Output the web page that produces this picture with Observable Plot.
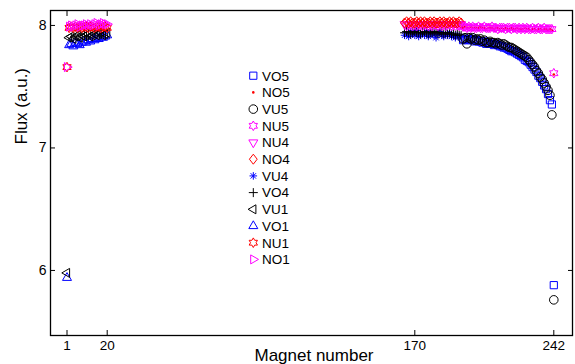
<!DOCTYPE html>
<html><head><meta charset="utf-8">
<script src="https://cdn.jsdelivr.net/npm/d3@7"></script>
<script src="https://cdn.jsdelivr.net/npm/@observablehq/plot@0.6"></script>
<style>
html,body{margin:0;padding:0;background:#fff;}
#wrap{position:relative;width:575px;height:364px;overflow:hidden;font-family:"Liberation Sans",Arial,sans-serif;}
#legend{position:absolute;left:0;top:0;pointer-events:none;}
</style></head><body><div id="wrap"></div>
<script>
// ---- data ----
const xTicks = [1, 20, 170, 242];
const yTicks = [6, 7, 8];
const xLabel = "Magnet number";
const yLabel = "Flux (a.u.)";

const mag1 = [1,2,3,4,5,6,7,8,9,10,11,12,13,14,15,16,17,18,19,20];
const mag4 = [165,166,167,168,169,170,171,172,173,174,175,176,177,178,179,180,181,182,183,184,185,186,187,188,189,190,191,192,193,194];
const mag5 = [195,196,197,198,199,200,201,202,203,204,205,206,207,208,209,210,211,212,213,214,215,216,217,218,219,220,221,222,223,224,225,226,227,228,229,230,231,232,233,234,235,236,237,238,239,240,241,242];

const NO1 = [7.66,7.99,8.00,7.99,8.00,8.01,7.99,8.00,8.00,8.01,8.00,8.01,8.00,8.01,8.02,8.00,8.01,8.02,8.01,8.01];
const NU1 = [7.66,7.98,7.99,7.98,7.99,7.98,7.99,7.98,7.99,7.99,7.98,7.99,7.99,7.98,7.99,7.99,7.98,7.99,7.99,7.98];
const VU1 = [5.98,7.90,7.91,7.89,7.91,7.92,7.90,7.92,7.91,7.92,7.93,7.91,7.92,7.93,7.92,7.93,7.94,7.92,7.93,7.94];
const VO1 = [5.94,7.84,7.85,7.83,7.86,7.85,7.84,7.86,7.87,7.86,7.88,7.87,7.89,7.88,7.90,7.89,7.91,7.90,7.91,7.92];

const NO4 = [8.02,8.03,8.02,8.03,8.02,8.02,8.03,8.02,8.03,8.02,8.03,8.02,8.02,8.03,8.02,8.03,8.02,8.02,8.03,8.02,8.03,8.02,8.02,8.03,8.02,8.03,8.02,8.02,8.03,8.02];
const NU4 = [8.01,8.00,8.01,8.01,8.00,8.01,8.00,8.01,8.01,8.00,8.01,8.01,8.00,8.01,8.00,8.01,8.01,8.00,8.01,8.00,8.01,8.00,8.01,8.01,8.00,8.01,8.00,8.01,8.00,8.01];
const VO4 = [7.94,7.95,7.94,7.93,7.94,7.95,7.94,7.94,7.93,7.94,7.95,7.94,7.93,7.94,7.94,7.95,7.94,7.93,7.94,7.94,7.93,7.94,7.93,7.94,7.93,7.93,7.92,7.93,7.92,7.92];
const VU4 = [7.92,7.94,7.91,7.95,7.93,7.92,7.96,7.91,7.93,7.94,7.92,7.95,7.91,7.93,7.94,7.92,7.90,7.93,7.95,7.92,7.91,7.93,7.92,7.94,7.91,7.92,7.90,7.92,7.91,7.90];

const VU5 = [7.89,7.90,7.85,7.90,7.89,7.90,7.88,7.89,7.88,7.89,
  7.87,7.88,7.86,7.86,7.87,7.86,7.86,7.85,7.86,7.85,
  7.84,7.85,7.84,7.83,7.82,7.82,7.81,7.80,7.79,7.78,
  7.77,7.76,7.75,7.74,7.72,7.70,7.68,7.66,7.63,7.61,
  7.58,7.56,7.53,7.50,7.47,7.43,7.27,5.76];
const VO5 = [7.88,7.89,7.88,7.89,7.88,7.89,7.87,7.88,7.87,7.87,
  7.86,7.87,7.85,7.86,7.85,7.85,7.84,7.85,7.84,7.83,
  7.83,7.82,7.82,7.81,7.80,7.79,7.79,7.78,7.77,7.76,
  7.75,7.74,7.72,7.71,7.70,7.68,7.66,7.64,7.62,7.59,
  7.57,7.54,7.51,7.48,7.44,7.39,7.355,5.88];
const NU5 = [7.99,7.99,7.98,7.99,7.98,7.99,7.98,7.98,7.99,7.98,
  7.98,7.99,7.98,7.98,7.98,7.99,7.98,7.98,7.97,7.98,
  7.98,7.98,7.97,7.98,7.98,7.97,7.98,7.98,7.97,7.98,
  7.97,7.98,7.97,7.98,7.97,7.97,7.98,7.97,7.97,7.98,
  7.97,7.97,7.98,7.97,7.97,7.97,7.97,7.61];
const NO5 = [7.98,7.99,7.98,7.98,7.99,7.98,7.98,7.98,7.98,7.99,
  7.98,7.98,7.97,7.98,7.98,7.98,7.97,7.98,7.98,7.97,
  7.98,7.97,7.98,7.97,7.97,7.98,7.97,7.97,7.98,7.97,
  7.97,7.97,7.98,7.97,7.97,7.96,7.97,7.97,7.96,7.97,
  7.97,7.96,7.97,7.97,7.96,7.97,7.96,7.60];

// ---- marker shapes (MATLAB-like) ----
const TAU = 2 * Math.PI;
const rad = s => Math.sqrt(s / Math.PI);
function poly(c, pts) { c.moveTo(pts[0][0], pts[0][1]); for (let i = 1; i < pts.length; i++) c.lineTo(pts[i][0], pts[i][1]); c.closePath(); }
const S3 = Math.sqrt(3) / 2;
const shapes = {
  square: {draw(c, s) { const r = rad(s); poly(c, [[-r,-r],[r,-r],[r,r],[-r,r]]); }},
  circle: {draw(c, s) { const r = rad(s); c.moveTo(r, 0); c.arc(0, 0, r, 0, TAU); }},
  hexagram: {draw(c, s) { const r = rad(s), ri = r / Math.sqrt(3), p = [];
    for (let i = 0; i < 12; i++) { const a = -Math.PI / 2 + i * Math.PI / 6, q = i % 2 ? ri : r; p.push([q * Math.cos(a), q * Math.sin(a)]); }
    poly(c, p); }},
  triUp: {draw(c, s) { const r = rad(s); poly(c, [[0,-r],[S3*r,r/2],[-S3*r,r/2]]); }},
  triDown: {draw(c, s) { const r = rad(s); poly(c, [[0,r],[S3*r,-r/2],[-S3*r,-r/2]]); }},
  triLeft: {draw(c, s) { const r = rad(s); poly(c, [[-r,0],[r/2,-S3*r],[r/2,S3*r]]); }},
  triRight: {draw(c, s) { const r = rad(s); poly(c, [[r,0],[-r/2,-S3*r],[-r/2,S3*r]]); }},
  diamond: {draw(c, s) { const r = rad(s); poly(c, [[0,-r],[0.78*r,0],[0,r],[-0.78*r,0]]); }},
  asterisk: {draw(c, s) { const r = rad(s);
    for (let k = 0; k < 4; k++) { const a = k * Math.PI / 4, cx = r * Math.cos(a), cy = r * Math.sin(a); c.moveTo(-cx, -cy); c.lineTo(cx, cy); } }},
  plus: {draw(c, s) { const r = rad(s); c.moveTo(-r, 0); c.lineTo(r, 0); c.moveTo(0, -r); c.lineTo(0, r); }}
};

// series styles (legend order)
const legendOrder = ["VO5","NO5","VU5","NU5","NU4","NO4","VU4","VO4","VU1","VO1","NU1","NO1"];
const style = {
  VO5: {shape: "square",   color: "#0000ff", r: 3.6},
  NO5: {shape: "circle",   color: "#ff0000", r: 1.3, filled: true},
  VU5: {shape: "circle",   color: "#000000", r: 4.3},
  NU5: {shape: "hexagram", color: "#ff00ff", r: 4.8},
  NU4: {shape: "triDown",  color: "#ff00ff", r: 5.2},
  NO4: {shape: "diamond",  color: "#ff0000", r: 5},
  VU4: {shape: "asterisk", color: "#0000ff", r: 3.8},
  VO4: {shape: "plus",     color: "#000000", r: 4.5},
  VU1: {shape: "triLeft",  color: "#000000", r: 5.2},
  VO1: {shape: "triUp",    color: "#0000ff", r: 5.2},
  NU1: {shape: "hexagram", color: "#ff0000", r: 4.8},
  NO1: {shape: "triRight", color: "#ff00ff", r: 5.2}
};
const seriesData = {
  VO1: [mag1, VO1], VU1: [mag1, VU1], NU1: [mag1, NU1], NO1: [mag1, NO1],
  VU4: [mag4, VU4], VO4: [mag4, VO4], NU4: [mag4, NU4], NO4: [mag4, NO4],
  NO5: [mag5, NO5], NU5: [mag5, NU5], VO5: [mag5, VO5], VU5: [mag5, VU5]
};
const drawOrder = ["VO1","VU1","NU1","NO1","VU4","VO4","NU4","NO4","NO5","NU5","VO5","VU5"];

function dotMark(name) {
  const [xs, ys] = seriesData[name];
  const st = style[name];
  const rows = xs.map((m, i) => ({magnet: m, flux: ys[i]}));
  return Plot.dot(rows, {
    x: "magnet", y: "flux", r: st.r,
    symbol: shapes[st.shape],
    fill: st.filled ? st.color : "none",
    stroke: st.filled ? "none" : st.color,
    strokeWidth: 1
  });
}

// the original axis is slightly non-uniform between its labelled magnets:
// piecewise-linear warp of magnet number -> axis units
const warp = d3.scaleLinear().domain([1, 20, 170, 242]).range([16.5, 56.7, 364.3, 503.3]);
const tickPos = xTicks.map(warp);
const tickLabel = v => String(Math.round(warp.invert(v)));

const chart = Plot.plot({
  width: 575, height: 364,
  marginLeft: 50, marginRight: 3, marginTop: 10, marginBottom: 29,
  style: {fontFamily: "'Liberation Sans', Arial, sans-serif", fontSize: "13.5px", color: "#000", background: "#fff", overflow: "visible"},
  x: {type: "linear", transform: warp, domain: [0, 522]},
  y: {domain: [5.469, 8.122]},
  marks: [
    ...drawOrder.map(dotMark),
    Plot.frame({stroke: "#000", strokeWidth: 1.3}),
    Plot.axisX({anchor: "bottom", ticks: tickPos, tickFormat: tickLabel, tickSize: -5, tickPadding: 10, label: null, stroke: "#000"}),
    Plot.axisX({anchor: "top", ticks: tickPos, tickFormat: () => "", tickSize: -5, label: null, stroke: "#000"}),
    Plot.axisY({anchor: "left", ticks: yTicks, tickFormat: d => String(d), tickSize: -5, tickPadding: 9, label: null, stroke: "#000", fontSize: 14}),
    Plot.axisY({anchor: "right", ticks: yTicks, tickFormat: () => "", tickSize: -5, label: null, stroke: "#000"}),
    Plot.text([yLabel], {text: d => d, frameAnchor: "left", rotate: -90, dx: -29, dy: -28.5, fontSize: 17, fill: "#000"}),
    Plot.text([xLabel], {text: d => d, frameAnchor: "bottom", dx: 2.5, dy: 25, fontSize: 17, fill: "#000"})
  ]
});
const wrap = document.getElementById("wrap");
wrap.appendChild(chart);

// ---- legend (overlay, boxless) ----
const lg = d3.select(wrap).append("svg").attr("id", "legend").attr("width", 575).attr("height", 364);
const lx = 253.3, tx = 262, ly0 = 75.7, ldy = 16.7;
legendOrder.forEach((name, i) => {
  const st = style[name];
  const y = ly0 + i * ldy;
  lg.append("path")
    .attr("transform", `translate(${lx},${y})`)
    .attr("d", d3.symbol(shapes[st.shape], Math.PI * st.r * st.r)())
    .attr("fill", st.filled ? st.color : "none")
    .attr("stroke", st.filled ? "none" : st.color)
    .attr("stroke-width", 1);
  lg.append("text")
    .attr("x", tx).attr("y", y).attr("dy", "0.36em")
    .attr("font-size", 13.5).attr("fill", "#000")
    .attr("font-family", "'Liberation Sans', Arial, sans-serif")
    .text(name);
});
</script></body></html>
